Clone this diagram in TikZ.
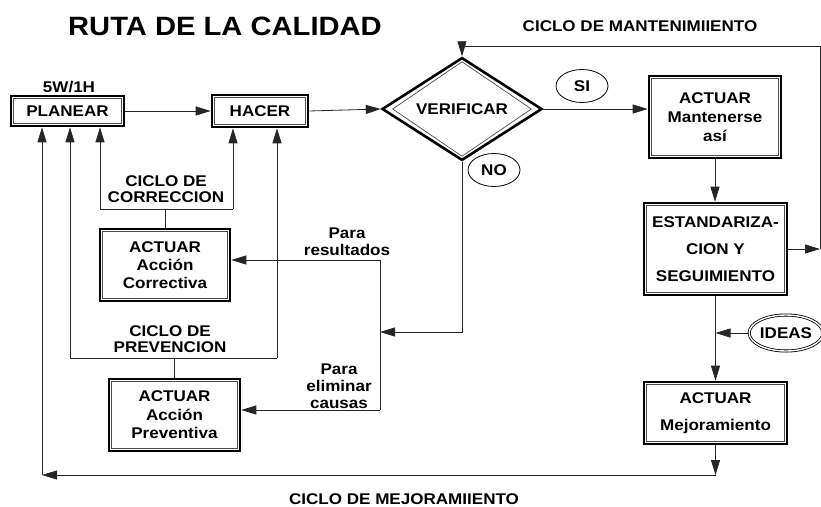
\documentclass[tikz,border=0pt]{standalone}
\usepackage{fontspec}
\setmainfont{Liberation Sans}[FakeStretch=1.1]
\usetikzlibrary{shapes.geometric,arrows.meta}
\newcommand\mylblfont[1]{\bfseries\fontsize{15.5}{#1}\selectfont}
\tikzset{
  lbl/.style={font=\mylblfont{17}, align=center, inner sep=0},
  dbox/.style={draw, rectangle, line width=2.6pt, inner sep=0, align=center},
  conn/.style={line width=0.8pt, draw=black!85},
  arr/.style={conn, -{Triangle[length=15pt,width=9pt]}},
  innerline/.style={line width=0.7pt, draw=black!70},
  oval/.style={ellipse, draw, line width=0.8pt, inner sep=0, font=\mylblfont{17}}
}
\begin{document}
\begin{tikzpicture}[x=1pt,y=-1pt]
\useasboundingbox (0,0) rectangle (821,506);

% titles and labels
\node[font=\bfseries\fontsize{26.5}{30}\selectfont, inner sep=0] (title) at (225,26) {RUTA DE LA CALIDAD};
\node[lbl] (w5) at (69,87) {5W/1H};
\node[lbl] (mantlbl) at (640,26) {CICLO DE MANTENIMIIENTO};
\node[lbl] (mejlbl) at (404,499) {CICLO DE MEJORAMIIENTO};
\node[lbl, font=\mylblfont{16}] (ccorr) at (166,189.5) {CICLO DE\\CORRECCION};
\node[lbl, font=\mylblfont{16}] (cprev) at (170,339) {CICLO DE\\PREVENCION};
\node[lbl] (parares) at (347,241.5) {Para\\resultados};
\node[lbl] (paraelim) at (339,386) {Para\\eliminar\\causas};

% boxes
\node[dbox, minimum width=113pt, minimum height=30pt, font=\mylblfont{17}] (plan) at (67.5,111) {PLANEAR};
\node[dbox, minimum width=96pt, minimum height=32pt, font=\mylblfont{17}] (hacer) at (260,111) {HACER};
\node[diamond, draw, line width=2.6pt, minimum width=160pt, minimum height=70pt, inner sep=0, font=\mylblfont{17}] (verif) at (462,109) {VERIFICAR};
\node[dbox, minimum width=132pt, minimum height=82pt, font=\mylblfont{19}] (mant) at (715,117) {ACTUAR\\Mantenerse\\así};
\node[dbox, minimum width=143pt, minimum height=92pt, font=\mylblfont{27}] (est) at (715.5,249) {ESTANDARIZA-\\CION Y\\SEGUIMIENTO};
\node[dbox, minimum width=143pt, minimum height=62pt, font=\mylblfont{27}] (mej) at (715.5,413) {ACTUAR\\Mejoramiento};
\node[dbox, minimum width=130pt, minimum height=72pt, font=\mylblfont{18}] (corr) at (165,265) {ACTUAR\\Acción\\Correctiva};
\node[dbox, minimum width=131pt, minimum height=72pt, font=\mylblfont{18.5}] (prev) at (174.5,415) {ACTUAR\\Acción\\Preventiva};

\foreach \n in {plan,hacer,mant,est,mej,corr,prev}
  \draw[innerline] ([shift={(4,4)}]\n.north west) rectangle ([shift={(-4,-4)}]\n.south east);
\draw[innerline] ([shift={(0,5.5)}]verif.north) -- ([shift={(-12,0)}]verif.east) -- ([shift={(0,-5.5)}]verif.south) -- ([shift={(12,0)}]verif.west) -- cycle;

% ovals
\node[oval, minimum width=52pt, minimum height=33pt] (si) at (582,86) {SI};
\node[oval, minimum width=52pt, minimum height=33pt] (no) at (494,170) {NO};
\node[oval, minimum width=72pt, minimum height=36pt, double, double distance=1.4pt] (ideas) at (786,333) {IDEAS};

% main flow
\draw[arr] (plan.east) -- (hacer.west);
\draw[arr] (hacer.east) -- (verif.west);
\draw[arr] (verif.east) -- (verif.east -| mant.west);
\draw[arr] (mant.south) -- (mant.south |- est.north);
\draw[arr] (est.south) -- (mej.north);
\draw[arr] (ideas.west) -- (ideas.west -| est.south);

% maintenance loop
\coordinate (rt) at (820,46);
\coordinate (rb) at (820,249);
\draw[arr] (est.east) -- (rb);
\draw[arr] (rb) -- (rt) -| (verif.north);

% NO branch
\coordinate (nx) at (380,332);
\coordinate (vt) at (380,260);
\coordinate (vb) at (380,410);
\draw[arr] (verif.south) |- (nx);
\draw[conn] (vt) -- (vb);
\draw[arr] (vt) -- (vt -| corr.east);
\draw[arr] (vb) -- (vb -| prev.east);

% correction loop
\coordinate (c1) at (100,209);
\coordinate (c2) at (233,209);
\draw[arr] (c1) -- (c1 |- plan.south);
\draw[conn] (c1) -- (c2);
\draw[arr] (c2) -- (c2 |- hacer.south);
\draw[conn] (corr.north) -- (corr.north |- c1);

% prevention loop
\coordinate (p1) at (70,358);
\coordinate (p2) at (277,358);
\draw[arr] (p1) -- (p1 |- plan.south);
\draw[conn] (p1) -- (p2);
\draw[arr] (p2) -- (p2 |- hacer.south);
\draw[conn] (prev.north) -- (prev.north |- p1);

% improvement loop
\coordinate (mb) at (715.5,475);
\coordinate (lb) at (42,475);
\draw[arr] (mej.south) -- (mb);
\draw[arr] (mb) -- (lb);
\draw[arr] (lb) -- (lb |- plan.south);
\end{tikzpicture}
\end{document}
